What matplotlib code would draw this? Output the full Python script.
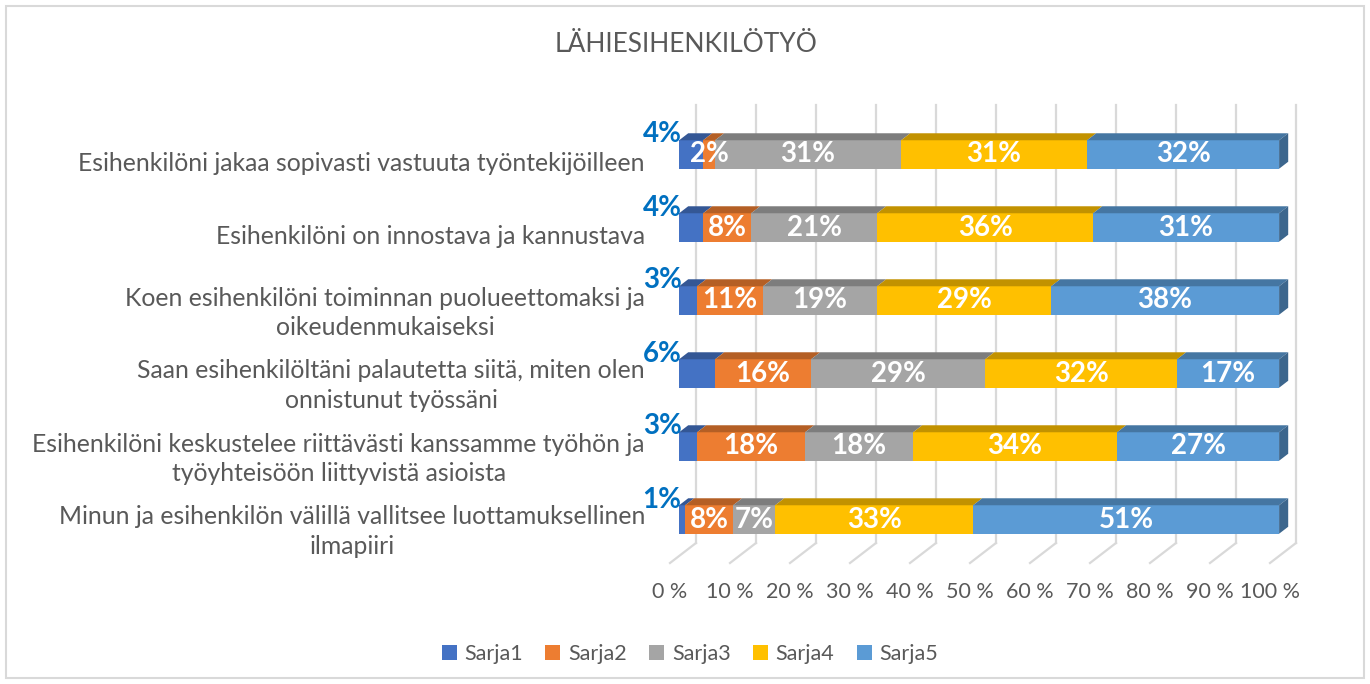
import matplotlib
matplotlib.use('Agg')
import matplotlib.pyplot as plt
import numpy as np
from matplotlib.patches import Polygon, Rectangle
from matplotlib.colors import to_rgb

# data, rows top to bottom
categories = [
    'Esihenkilöni jakaa sopivasti vastuuta työntekijöilleen',
    'Esihenkilöni on innostava ja kannustava',
    'Koen esihenkilöni toiminnan puolueettomaksi ja\noikeudenmukaiseksi',
    'Saan esihenkilöltäni palautetta siitä, miten olen\nonnistunut työssäni',
    'Esihenkilöni keskustelee riittävästi kanssamme työhön ja\ntyöyhteisöön liittyvistä asioista',
    'Minun ja esihenkilön välillä vallitsee luottamuksellinen\nilmapiiri',
]
sarja1 = [4, 4, 3, 6, 3, 1]
sarja2 = [2, 8, 11, 16, 18, 8]
sarja3 = [31, 21, 19, 29, 18, 7]
sarja4 = [31, 36, 29, 32, 34, 33]
sarja5 = [32, 31, 38, 17, 27, 51]
series_names = ['Sarja1', 'Sarja2', 'Sarja3', 'Sarja4', 'Sarja5']
x_ticks = list(range(0, 101, 10))

colors = ['#4472C4', '#ED7D31', '#A5A5A5', '#FFC000', '#5B9BD5']
grid_col = '#D9D9D9'
text_col = '#595959'

plt.rcParams['font.family'] = ['Lato', 'DejaVu Sans']

W, H = 1370, 684
fig = plt.figure(figsize=(W / 100, H / 100), dpi=100)
ax = fig.add_axes([670 / W, 1 - 563 / H, 600 / W, 438 / H])
ax.set_xlim(0, 100)
ax.set_ylim(5.5, -0.5)
for s in ax.spines.values():
    s.set_visible(False)

# fake 3d depth, in data units (full depth = 26px right, 20px up)
DX, DY = 26 / 6.0, 20 / 73.0
def off(d):
    return DX * d, DY * d

def darker(c, f):
    r, g, b = to_rgb(c)
    return (r * f, g * f, b * f)

# back wall + floor gridlines
bx, by = off(1)
for t in x_ticks:
    ax.plot([t + bx, t + bx], [-0.5 - by, 5.5 - by], color=grid_col, lw=1.6, zorder=0, clip_on=False)
    ax.plot([t, t + bx], [5.5, 5.5 - by], color=grid_col, lw=1.6, zorder=0, clip_on=False)

d0, d1 = 0.35, 0.7
fx, fy = off(d0)
gx, gy = off(d1)
h = 0.39
y = np.arange(len(categories))
left = np.zeros(len(categories))
series = [sarja1, sarja2, sarja3, sarja4, sarja5]

for k, (vals, c, name) in enumerate(zip(series, colors, series_names)):
    vals = np.array(vals, dtype=float)
    ax.barh(y - fy, vals, left=left + fx, height=h, color=c, zorder=2, label=name, clip_on=False)
    for i in range(len(y)):
        l, r = left[i] + fx, left[i] + vals[i] + fx
        yt = y[i] - h / 2 - fy
        yb = y[i] + h / 2 - fy
        top = [(l, yt), (r, yt), (r + gx - fx, yt - (gy - fy)), (l + gx - fx, yt - (gy - fy))]
        ax.add_patch(Polygon(top, closed=True, fc=darker(c, 0.76), ec='none', zorder=2, clip_on=False))
        if k == len(series) - 1:
            side = [(r, yt), (r + gx - fx, yt - (gy - fy)), (r + gx - fx, yb - (gy - fy)), (r, yb)]
            ax.add_patch(Polygon(side, closed=True, fc=darker(c, 0.66), ec='none', zorder=2, clip_on=False))
        if k == 0:
            ax.annotate(f'{int(vals[i])}%', (l, y[i] - fy), xytext=(-17, 20), textcoords='offset pixels',
                        ha='center', va='center', color='#0070C0', fontsize=20, fontweight='bold', zorder=5)
        else:
            ax.text(l + vals[i] / 2, y[i] - fy, f'{int(vals[i])}%', ha='center', va='center',
                    color='white', fontsize=20, fontweight='bold', zorder=5)
    left = left + vals

ax.set_xticks(x_ticks, [f'{t} %' for t in x_ticks])
ax.tick_params(axis='x', length=0, pad=14, labelsize=15.5, labelcolor=text_col)
ax.set_yticks(y, categories)
ax.tick_params(axis='y', length=0, pad=18, labelsize=17.8, labelcolor=text_col)
for lbl in ax.get_yticklabels():
    lbl.set_multialignment('center')
    lbl.set_linespacing(1.35)

fig.text(686 / W, 1 - 45 / H, 'LÄHIESIHENKILÖTYÖ', ha='center', va='center', fontsize=19, color=text_col)

fig.legend(loc='center', bbox_to_anchor=(690 / W, 1 - 654 / H), ncol=5, frameon=False, fontsize=15.5,
           handlelength=0.7, handleheight=0.7, handletextpad=0.35, columnspacing=1.05, labelcolor=text_col)

fig.add_artist(Rectangle((6 / W, 6 / H), 1358 / W, 672 / H, transform=fig.transFigure,
                         fill=False, ec=grid_col, lw=1.5))

fig.savefig('out.png', dpi=100)
